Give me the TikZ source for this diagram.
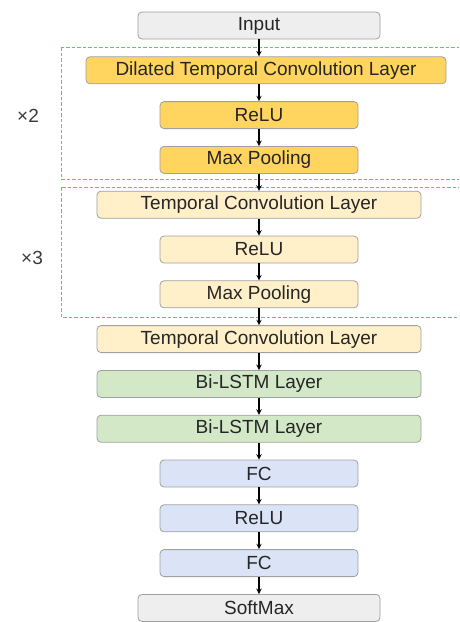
\documentclass[tikz,border=0pt]{standalone}
\usepackage{fontspec}
\setmainfont{Liberation Sans}
\usetikzlibrary{positioning}
\definecolor{layergray}{HTML}{EEEEEE}
\definecolor{layergold}{HTML}{FFD45F}
\definecolor{layercream}{HTML}{FFF0C9}
\definecolor{layergreen}{HTML}{D3E8C6}
\definecolor{layerblue}{HTML}{DAE4F6}
\definecolor{layerline}{HTML}{A0A0A0}
\definecolor{groupgreen}{HTML}{76C152}
\definecolor{labelgray}{HTML}{3A3A3A}

\begin{document}
\begin{tikzpicture}[
    node distance=17pt,
    layer/.style={draw=layerline, line width=0.8pt, rounded corners=4pt,
        minimum height=27pt, inner sep=2pt, text=black!85,
        font=\fontsize{19}{22}\selectfont},
    flow/.style={->, >=stealth, line width=1.4pt},
    repeatbox/.style={draw=groupgreen, line width=1pt, dash pattern=on 3.5pt off 2pt}
]
    % Page size of the reference picture
    \useasboundingbox (0,0) rectangle (459pt,-622pt);
    \clip (0,0) rectangle (459pt,-622pt);

    % Input and the dilated block
    \node(input)[layer, fill=layergray, minimum width=242pt] at (259pt,-25.5pt) {Input};
    \node(dtc)[layer, fill=layergold, minimum width=360pt, below=of input, xshift=7pt] {Dilated Temporal Convolution Layer};
    \node(relu1)[layer, fill=layergold, minimum width=198pt, below=of dtc, xshift=-7pt] {ReLU};
    \node(pool1)[layer, fill=layergold, minimum width=198pt, below=of relu1] {Max Pooling};

    % Temporal block
    \node(tcl1)[layer, fill=layercream, minimum width=324pt, below=of pool1] {Temporal Convolution Layer};
    \node(relu2)[layer, fill=layercream, minimum width=198pt, below=of tcl1] {ReLU};
    \node(pool2)[layer, fill=layercream, minimum width=198pt, below=of relu2] {Max Pooling};
    \node(tcl2)[layer, fill=layercream, minimum width=324pt, below=of pool2] {Temporal Convolution Layer};

    % Recurrent part
    \node(lstm1)[layer, fill=layergreen, minimum width=324pt, below=of tcl2] {Bi-LSTM Layer};
    \node(lstm2)[layer, fill=layergreen, minimum width=324pt, below=of lstm1] {Bi-LSTM Layer};

    % Classifier head
    \node(fc1)[layer, fill=layerblue, minimum width=198pt, below=of lstm2] {FC};
    \node(relu3)[layer, fill=layerblue, minimum width=198pt, below=of fc1] {ReLU};
    \node(fc2)[layer, fill=layerblue, minimum width=198pt, below=of relu3] {FC};
    \node(softmax)[layer, fill=layergray, minimum width=242pt, below=of fc2] {SoftMax};

    % Repeated blocks (open to the right)
    \draw[repeatbox] (61pt,-47pt) rectangle (475pt,-179pt);
    \draw[repeatbox] (61pt,-187pt) rectangle (475pt,-317pt);
    \node(times2)[text=labelgray, font=\fontsize{19}{22}\selectfont] at (28pt,-116pt) {×2};
    \node(times3)[text=labelgray, font=\fontsize{19}{22}\selectfont] at (32pt,-258pt) {×3};

    % Connectors
    \draw[flow] (input.south) -- (input.south |- dtc.north);
    \draw[flow] (relu1.north |- dtc.south) -- (relu1.north);
    \foreach \a/\b in {relu1/pool1, pool1/tcl1, tcl1/relu2, relu2/pool2, pool2/tcl2,
        tcl2/lstm1, lstm1/lstm2, lstm2/fc1, fc1/relu3, relu3/fc2, fc2/softmax} {
        \draw[flow] (\a) -- (\b);
    }
\end{tikzpicture}
\end{document}
